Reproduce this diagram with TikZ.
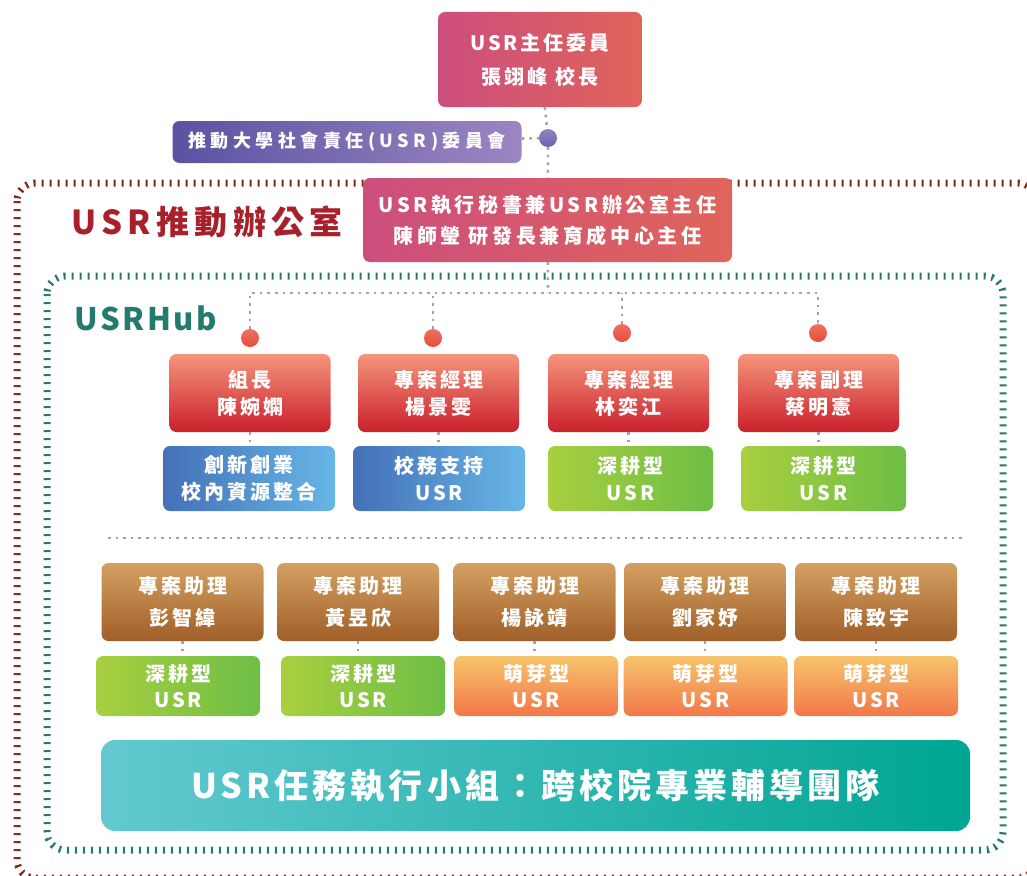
\documentclass[tikz,border=0pt]{standalone}
\usepackage{fontspec}
\newfontfamily\cjk[LetterSpace=15]{Noto Sans CJK TC}
\newfontfamily\cjkhub[LetterSpace=8]{Noto Sans CJK TC}
\newfontfamily\cjktitle[LetterSpace=16]{Noto Sans CJK TC}
\newfontfamily\cjkcmte[LetterSpace=25]{Noto Sans CJK TC}
\newfontfamily\cjksec[LetterSpace=18]{Noto Sans CJK TC}
\newfontfamily\cjkteam[LetterSpace=12]{Noto Sans CJK TC}
\definecolor{pinkL}{HTML}{CC4E7E}
\definecolor{pinkR}{HTML}{E0645A}
\definecolor{purpleL}{HTML}{5A53A2}
\definecolor{purpleR}{HTML}{9C86C2}
\definecolor{dotpurple}{HTML}{6C5FB0}
\definecolor{redT}{HTML}{F5957C}
\definecolor{redM}{HTML}{EA5540}
\definecolor{redB}{HTML}{CB1F2B}
\definecolor{dotred}{HTML}{E84C3A}
\definecolor{blueL}{HTML}{4470B8}
\definecolor{blueR}{HTML}{67B6E6}
\definecolor{greenL}{HTML}{A8CF3F}
\definecolor{greenR}{HTML}{6EBE45}
\definecolor{brownT}{HTML}{D4A062}
\definecolor{brownM}{HTML}{C3852B}
\definecolor{brownB}{HTML}{A05F28}
\definecolor{orangeT}{HTML}{F7C46B}
\definecolor{orangeB}{HTML}{F2774A}
\definecolor{tealL}{HTML}{63C9D1}
\definecolor{tealM}{HTML}{00B5C3}
\definecolor{tealR}{HTML}{00A593}
\definecolor{officered}{HTML}{7E2A1F}
\definecolor{titlered}{HTML}{A8202A}
\definecolor{hubteal}{HTML}{257A6E}
\definecolor{linkgray}{HTML}{A3A3A3}

\begin{document}
\begin{tikzpicture}[x=1pt,y=-1pt,
    box/.style={rounded corners=7pt,text=white,align=center,inner sep=0pt},
    pinkbox/.style={box,left color=pinkL,right color=pinkR,font=\cjk\bfseries\fontsize{20}{34}\selectfont},
    leadbox/.style={box,top color=redT,middle color=redM,bottom color=redB,minimum width=161pt,minimum height=78pt,font=\cjk\bfseries\fontsize{20}{27}\selectfont},
    bluebox/.style={box,left color=blueL,right color=blueR,minimum width=172pt,minimum height=65pt,font=\cjk\bfseries\fontsize{20}{27}\selectfont},
    greenbox/.style={box,left color=greenL,right color=greenR,minimum height=65pt,font=\cjk\bfseries\fontsize{20}{27}\selectfont},
    brownbox/.style={box,top color=brownT,middle color=brownM,bottom color=brownB,minimum width=162pt,minimum height=78pt,font=\cjk\bfseries\fontsize{20}{32}\selectfont},
    orangebox/.style={box,top color=orangeT,bottom color=orangeB,minimum width=164pt,minimum height=60pt,font=\cjk\bfseries\fontsize{20}{26}\selectfont},
    dot/.style={circle,inner sep=0pt,minimum size=18pt},
    link/.style={draw=linkgray,line width=2.6pt,dash pattern=on 2.6pt off 5pt},
    ticks/.style={line width=7pt,dash pattern=on 2.2pt off 5.8pt,rounded corners=18pt}]
    \useasboundingbox (0,0) rectangle (1027,875);
    \draw[ticks,officered] (17,183) rectangle (1036,878);
    \draw[ticks,hubteal] (47,276) rectangle (1003,850);
    \node(office) at (207,222) {\cjktitle\bfseries\fontsize{33}{33}\selectfont\color{titlered}USR推動辦公室};
    \node(hub) at (146,318) {\cjkhub\bfseries\fontsize{31}{31}\selectfont\color{hubteal}USRHub};

    \node(chair)[pinkbox,minimum width=204pt,minimum height=95pt] at (540,59.5) {USR主任委員\\張翊峰 校長};
    \node(cmte)[box,left color=purpleL,right color=purpleR,minimum width=349pt,minimum height=42pt,font=\cjkcmte\bfseries\fontsize{18}{18}\selectfont] at (347,142) {推動大學社會責任(USR)委員會};
    \node(cdot)[dot,top color=dotpurple!75,bottom color=dotpurple] at (548,138) {};
    \node(sec)[pinkbox,minimum width=369pt,minimum height=84pt,font=\cjksec\bfseries\fontsize{20}{31}\selectfont] at (547.5,220) {USR執行秘書兼USR辦公室主任\\陳師瑩 研發長兼育成中心主任};
    \draw[link] (chair) -- (cdot);
    \draw[link] (cdot) -- (sec);
    \draw[link] (cmte) -- (cdot);

    \coordinate(bus) at (548,293);
    \node(d1)[dot,top color=dotred!80,bottom color=dotred] at (250,338) {};
    \node(d2)[dot,top color=dotred!80,bottom color=dotred] at (433,338) {};
    \node(d3)[dot,top color=dotred!80,bottom color=dotred] at (622,333) {};
    \node(d4)[dot,top color=dotred!80,bottom color=dotred] at (818,333) {};
    \draw[link] (sec) -- (bus);
    \draw[link] (d1) -- (d1 |- bus) -- (d4 |- bus) -- (d4);
    \draw[link] (d2) -- (d2 |- bus);
    \draw[link] (d3) -- (d3 |- bus);

    \node(L1)[leadbox] at (250,393) {組長\\陳婉嫻};
    \node(L2)[leadbox] at (438.5,393) {專案經理\\楊景雯};
    \node(L3)[leadbox] at (628.5,393) {專案經理\\林奕江};
    \node(L4)[leadbox] at (818.5,393) {專案副理\\蔡明憲};
    \node(T1)[bluebox] at (249,478.5) {創新創業\\校內資源整合};
    \node(T2)[bluebox] at (439,478.5) {校務支持\\USR};
    \node(T3)[greenbox,minimum width=165pt] at (630.5,478.5) {深耕型\\USR};
    \node(T4)[greenbox,minimum width=165pt] at (823.5,478.5) {深耕型\\USR};
    \draw[link] (L1) -- (L1 |- T1.north);
    \draw[link] (L2) -- (L2 |- T2.north);
    \draw[link] (L3) -- (L3 |- T3.north);
    \draw[link] (L4) -- (L4 |- T4.north);

    \coordinate(sepL) at (108,538);
    \coordinate(sepR) at (962,538);
    \draw[link] (sepL) -- (sepR);

    \node(A1)[brownbox] at (182.5,602) {專案助理\\彭智緯};
    \node(A2)[brownbox] at (358,602) {專案助理\\黃昱欣};
    \node(A3)[brownbox] at (534.5,602) {專案助理\\楊詠靖};
    \node(A4)[brownbox] at (705,602) {專案助理\\劉家妤};
    \node(A5)[brownbox] at (876,602) {專案助理\\陳致宇};
    \node(U1)[greenbox,minimum width=164pt,minimum height=60pt,font=\cjk\bfseries\fontsize{20}{26}\selectfont] at (178,686) {深耕型\\USR};
    \node(U2)[greenbox,minimum width=164pt,minimum height=60pt,font=\cjk\bfseries\fontsize{20}{26}\selectfont] at (363,686) {深耕型\\USR};
    \node(U3)[orangebox] at (536,686) {萌芽型\\USR};
    \node(U4)[orangebox] at (705.5,686) {萌芽型\\USR};
    \node(U5)[orangebox] at (876,686) {萌芽型\\USR};
    \draw[link] (A1) -- (A1 |- U1.north);
    \draw[link] (A2) -- (A2 |- U2.north);
    \draw[link] (A3) -- (A3 |- U3.north);
    \draw[link] (A4) -- (A4 |- U4.north);
    \draw[link] (A5) -- (A5 |- U5.north);

    \node(team)[box,rounded corners=14pt,left color=tealL,middle color=tealM,right color=tealR,minimum width=869pt,minimum height=91pt,font=\cjkteam\bfseries\fontsize{34}{34}\selectfont] at (535.5,785.5) {USR任務執行小組：跨校院專業輔導團隊};
\end{tikzpicture}
\end{document}
